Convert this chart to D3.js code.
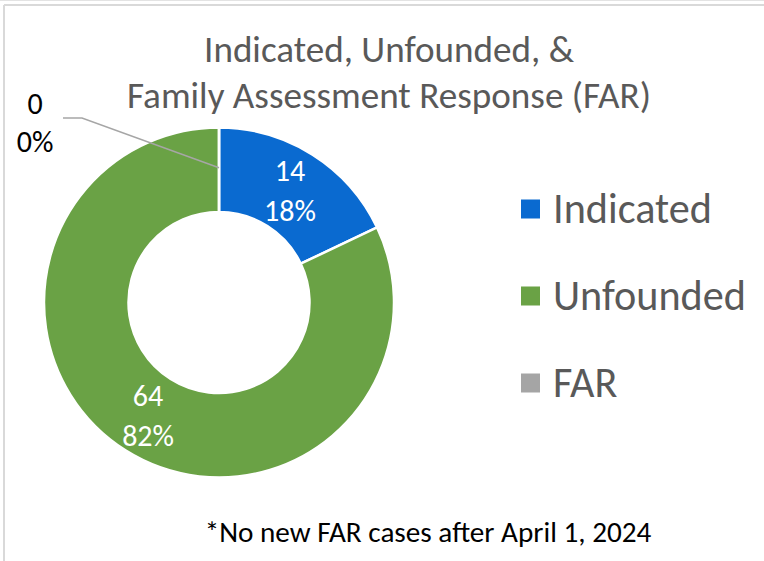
<!DOCTYPE html>
<html>
<head>
<meta charset="utf-8">
<script src="https://cdn.jsdelivr.net/npm/d3@7"></script>
<style>
  html, body { margin: 0; padding: 0; background: #fff; }
  svg { display: block; font-family: Calibri, Carlito, Lato, "Open Sans", sans-serif; }
</style>
</head>
<body>
<svg id="chart" width="764" height="561"></svg>
<script>
// ---- data ----
const categories = ["Indicated", "Unfounded", "FAR"];
const values = [14, 64, 0];
const colors = ["#0a6ad0", "#6aa245", "#a5a5a5"];
const titleLines = ["Indicated, Unfounded, &", "Family Assessment Response (FAR)"];
const footnote = "*No new FAR cases after April 1, 2024";

// ---- layout ----
const W = 764, H = 561;
const svg = d3.select("#chart");
const cx = 219, cy = 302.5, rOuter = 175, rInner = 90.5;

function fit(sel, target) {
  const w = sel.node().getComputedTextLength();
  const fs = parseFloat(sel.attr("font-size"));
  sel.attr("font-size", fs * target / w);
  return fs * target / w;
}

// frame
svg.append("line").attr("x1", 0).attr("x2", W).attr("y1", 0.5).attr("y2", 0.5)
  .attr("stroke", "#e3e3e3").attr("stroke-width", 1);
svg.append("line").attr("x1", 4).attr("x2", W).attr("y1", 5).attr("y2", 5)
  .attr("stroke", "#d9d9d9").attr("stroke-width", 2);
svg.append("line").attr("x1", 4).attr("x2", 4).attr("y1", 5).attr("y2", H)
  .attr("stroke", "#d9d9d9").attr("stroke-width", 2);

// title
const titleBase = [62, 108];
const titleWidths = [370, 524];
titleLines.forEach((t, i) => {
  const tx = svg.append("text").attr("x", 389).attr("y", titleBase[i])
    .attr("text-anchor", "middle").attr("fill", "#595959")
    .attr("font-size", 32).text(t);
  fit(tx, titleWidths[i]);
});

// donut
const total = d3.sum(values);
const pie = d3.pie().sort(null).value(d => d.value);
const data = pie(categories.map((c, i) => ({ name: c, value: values[i], color: colors[i] })));
const arc = d3.arc().innerRadius(rInner).outerRadius(rOuter);
const g = svg.append("g").attr("transform", `translate(${cx},${cy})`);

g.selectAll("path.slice").data(data).join("path")
  .attr("class", "slice")
  .attr("d", arc)
  .attr("fill", d => d.data.color)
  .attr("stroke", "#fff")
  .attr("stroke-width", 2.5)
  .attr("stroke-linejoin", "miter");

const pct = d3.format(".0%");
// inside labels
data.filter(d => d.value > 0).forEach(d => {
  const [x, y] = arc.centroid(d);
  const lt = g.append("text").attr("text-anchor", "middle").attr("fill", "#fff")
    .attr("font-size", 30);
  lt.append("tspan").attr("x", x).attr("y", y - 9).text(d.data.value);
  lt.append("tspan").attr("x", x).attr("y", y + 31).text(pct(d.data.value / total));
});

// outside label for zero slice with leader line
data.filter(d => d.value === 0).forEach(d => {
  const [x0, y0] = arc.centroid(d);
  const elbow = [82 - cx, 118 - cy];
  const end = [63 - cx, 118 - cy];
  g.append("path")
    .attr("d", d3.line()([[x0, y0 - 2], elbow, end]))
    .attr("fill", "none").attr("stroke", "#a6a6a6").attr("stroke-width", 1.5);
  const lt = g.append("text").attr("text-anchor", "middle").attr("fill", "#000")
    .attr("font-size", 30);
  lt.append("tspan").attr("x", 35 - cx).attr("y", 114 - cy).text(d.data.value);
  lt.append("tspan").attr("x", 35 - cx).attr("y", 152 - cy).text(pct(d.data.value / total));
});

// legend
const legY = [209, 296, 383];
const leg = svg.append("g");
let legSize = 38;
categories.forEach((c, i) => {
  leg.append("rect").attr("x", 521).attr("y", legY[i] - 9.5).attr("width", 19).attr("height", 19)
    .attr("fill", colors[i]);
  const t = leg.append("text").attr("x", 553).attr("y", legY[i] + 13.5)
    .attr("fill", "#595959").attr("font-size", legSize).text(c);
  if (i === 1) legSize = fit(t, 193);
});
leg.selectAll("text").attr("font-size", legSize);

// footnote
const fn = svg.append("text").attr("x", 428).attr("y", 542).attr("text-anchor", "middle")
  .attr("fill", "#000").attr("font-size", 25).text(footnote);
fit(fn, 447);
</script>
</body>
</html>
